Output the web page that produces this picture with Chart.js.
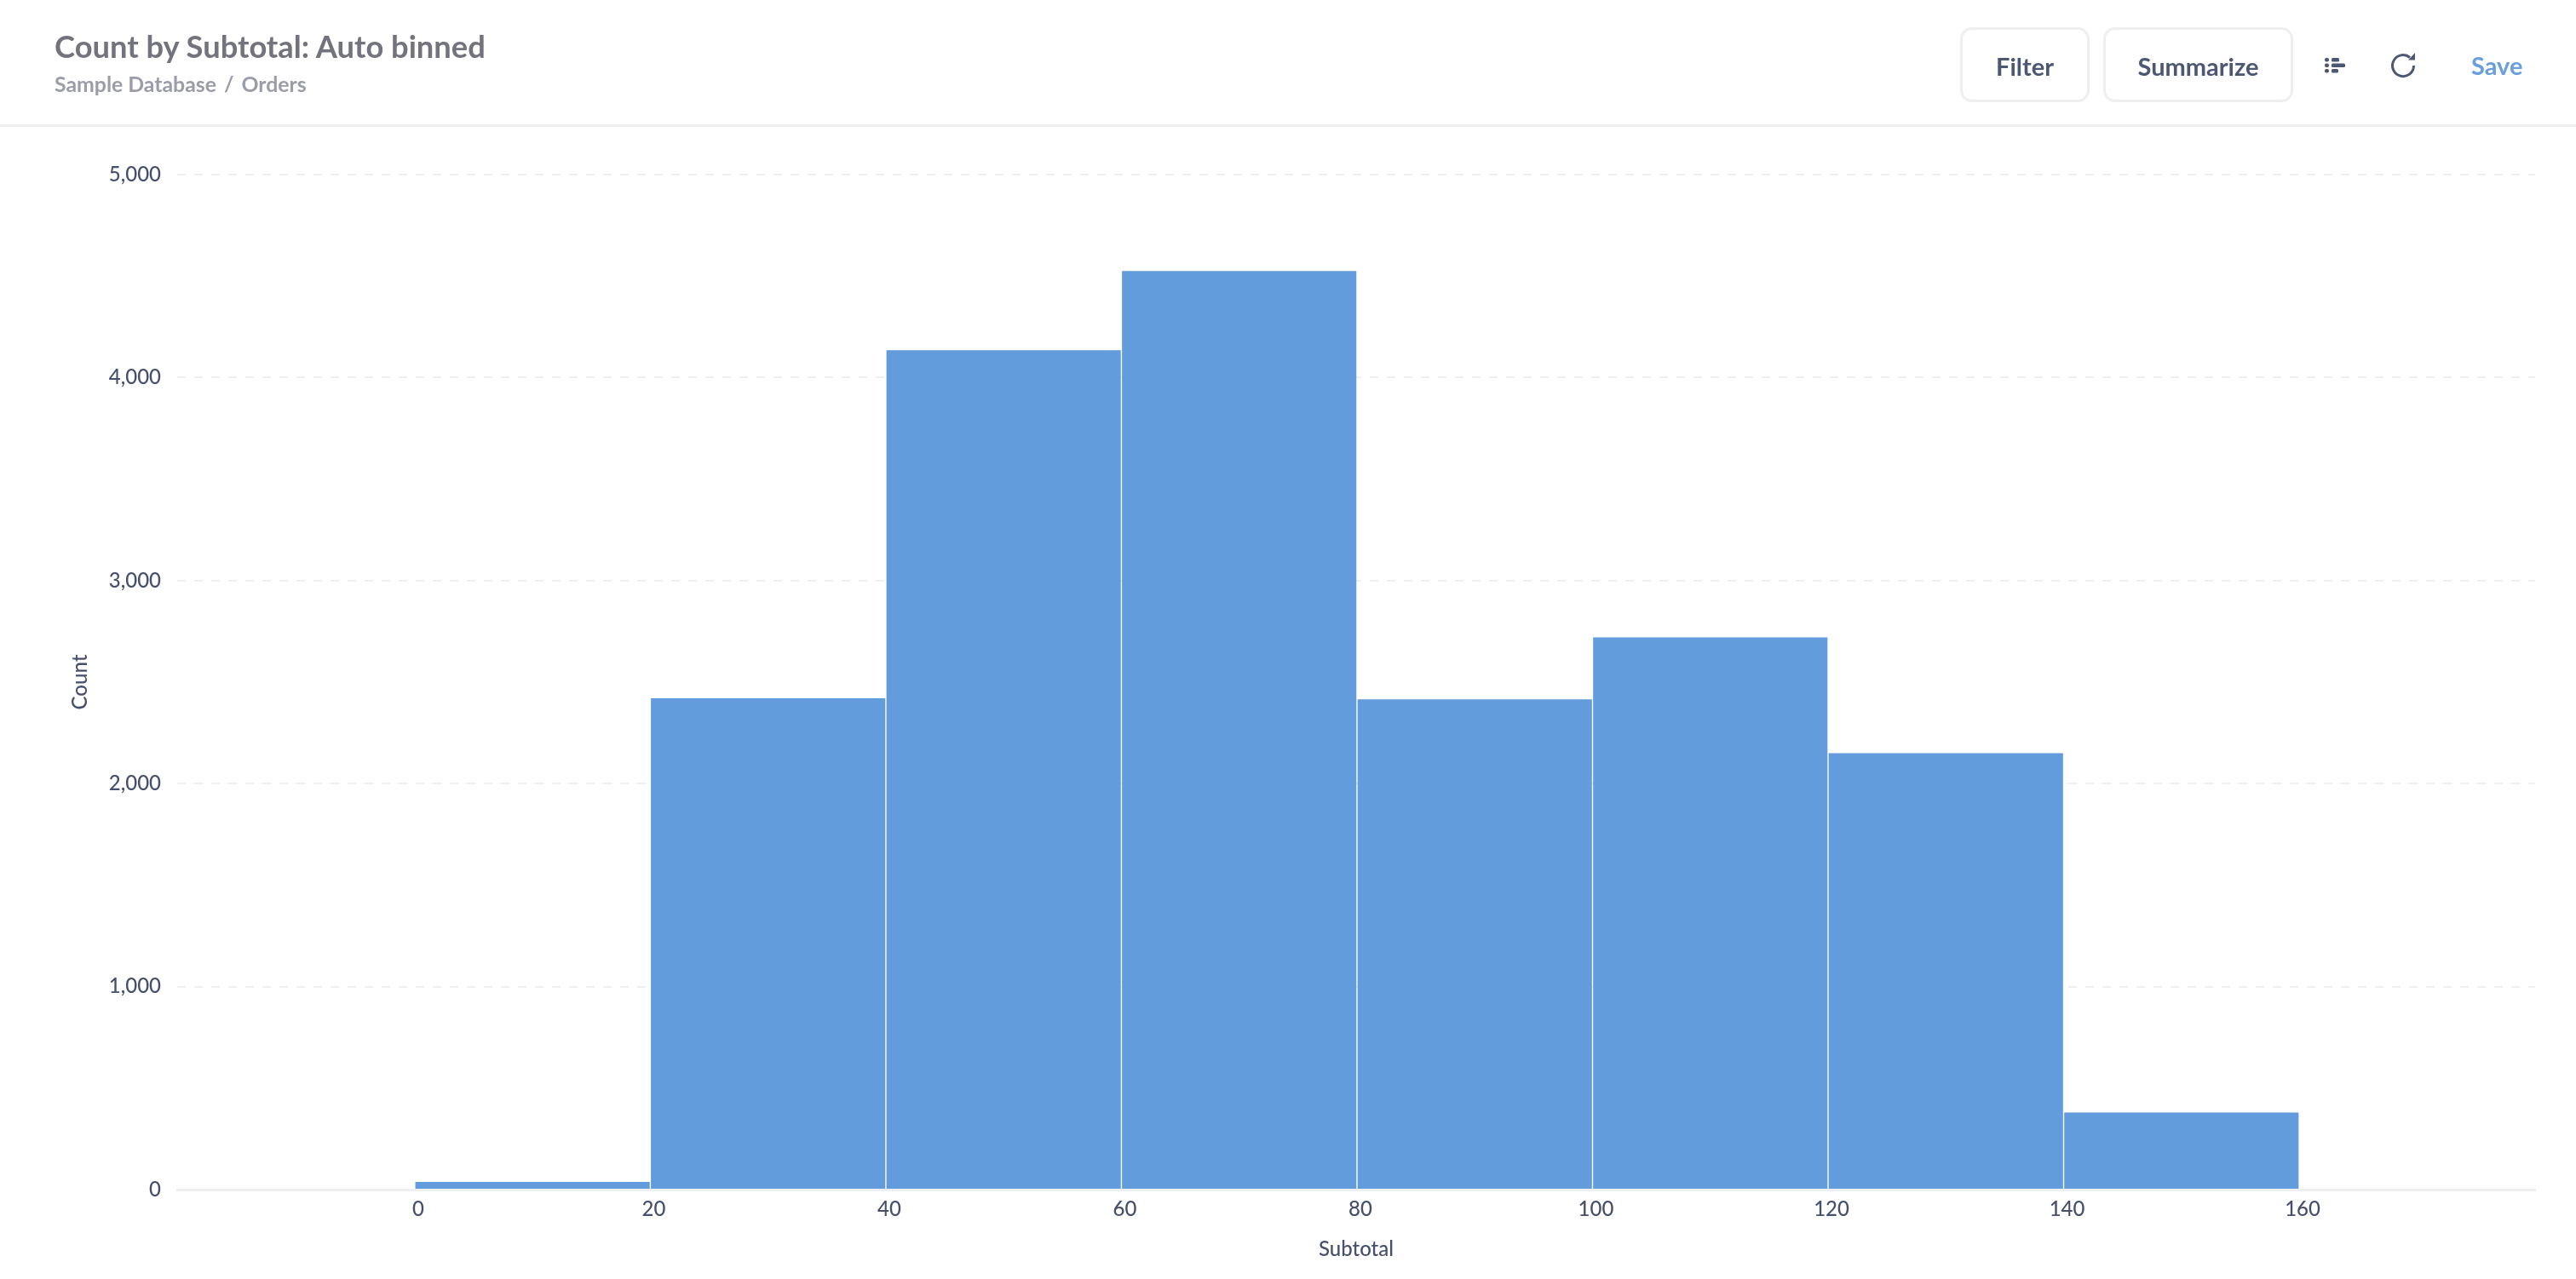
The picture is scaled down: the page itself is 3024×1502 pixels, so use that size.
<!DOCTYPE html>
<html>
<head>
<meta charset="utf-8">
<style>
html,body{margin:0;padding:0;background:#fff;width:3024px;height:1502px;overflow:hidden;font-family:Lato,sans-serif}
#chart{position:absolute;left:0;top:0}
.head{position:absolute;left:0;top:0;width:3024px;height:146px;border-bottom:3px solid #eeeff0;z-index:2}
.t{position:absolute;white-space:nowrap}
#title{left:64px;top:31px;font-size:36.3px;font-weight:700;color:#72737d;line-height:46px}
#crumb{left:64px;top:83px;font-size:24.8px;font-weight:700;color:#9a9ca9;line-height:32px}
#crumb span{margin:0 9px}
.btn{position:absolute;top:32px;height:82px;border:3px solid #eeeff1;border-radius:14px;text-align:center;line-height:85px;font-size:29px;font-weight:700;color:#4c5773}
#save{left:2901px;top:59px;font-size:29px;font-weight:700;color:#6a9fdc;line-height:36px}
svg{position:absolute}
</style>
</head>
<body>
<div class="head">
  <div class="t" id="title">Count by Subtotal: Auto binned</div>
  <div class="t" id="crumb">Sample Database<span>/</span>Orders</div>
  <div class="btn" style="left:2301px;width:146px">Filter</div>
  <div class="btn" style="left:2469px;width:217px">Summarize</div>
  <svg style="left:2729px;top:68px" width="24" height="18" viewBox="0 0 24 18" fill="#4c5773">
    <rect x="0" y="0" width="5" height="4.5" rx="2"/><rect x="8" y="0" width="9" height="4.5" rx="1.5"/>
    <rect x="0" y="6.5" width="5" height="4.5" rx="2"/><rect x="8" y="6.5" width="16" height="4.5" rx="1.5"/>
    <rect x="0" y="13" width="5" height="4.5" rx="2"/><rect x="8" y="13" width="8" height="4.5" rx="1.5"/>
  </svg>
  <svg style="left:2804px;top:60px" width="34" height="34" viewBox="0 0 34 34" fill="none" stroke="#4c5773" stroke-width="3">
    <path d="M25 7.5 A12.5 12.5 0 1 0 29.5 17"/>
    <path d="M23 10.5 L31 10.5 L31 2 Z" fill="#4c5773" stroke="none"/>
  </svg>
  <div class="t" id="save">Save</div>
</div>
<canvas id="chart" width="3024" height="1502"></canvas>
<script src="https://cdn.jsdelivr.net/npm/chart.js@4/dist/chart.umd.min.js"></script>
<script>
const binCenters = [10, 30, 50, 70, 90, 110, 130, 150];
const counts = [38, 2420, 4135, 4525, 2415, 2720, 2150, 380];
const xTickValues = [0, 20, 40, 60, 80, 100, 120, 140, 160];
const yTickValues = [0, 1000, 2000, 3000, 4000, 5000];
const xAxisTitle = 'Subtotal';
const yAxisTitle = 'Count';
const ink = '#464f6c';
const labelFont = {family: "'Lato Medium', Lato", size: 24, weight: '500'};

new Chart(document.getElementById('chart'), {
  type: 'bar',
  data: {
    datasets: [{
      data: binCenters.map((x, i) => ({x, y: counts[i]})),
      backgroundColor: '#629cdd',
      borderWidth: 0,
      barPercentage: 0.995,
      categoryPercentage: 1
    }]
  },
  options: {
    responsive: false,
    animation: false,
    devicePixelRatio: 1,
    plugins: {legend: {display: false}, tooltip: {enabled: false}},
    layout: {padding: {left: 80, right: 48, top: 205, bottom: 20}},
    scales: {
      x: {
        type: 'linear',
        min: -20.17,
        max: 180.03,
        offset: false,
        afterBuildTicks: s => { s.ticks = xTickValues.map(value => ({value})); },
        afterFit: s => { s.height = 85; },
        grid: {display: false},
        border: {display: true, color: '#eeeff0', width: 3},
        ticks: {
          autoSkip: false, maxRotation: 0, padding: 1, labelOffset: 4,
          color: ink, font: labelFont
        },
        title: {
          display: true, text: xAxisTitle, color: ink,
          font: labelFont, padding: {top: 14, bottom: 0}
        }
      },
      y: {
        min: 0,
        max: 5000,
        afterBuildTicks: s => { s.ticks = yTickValues.map(value => ({value})); },
        afterFit: s => { s.width = 128; },
        grid: {color: '#eeeff0', lineWidth: 2, drawTicks: false},
        border: {display: false, dash: [10, 10]},
        ticks: {
          autoSkip: false, padding: 19, color: ink,
          font: labelFont,
          callback: v => v.toLocaleString('en-US')
        },
        title: {
          display: true, text: yAxisTitle, color: ink,
          font: labelFont, padding: {top: 0, bottom: 0}
        }
      }
    }
  }
});
</script>
</body>
</html>
